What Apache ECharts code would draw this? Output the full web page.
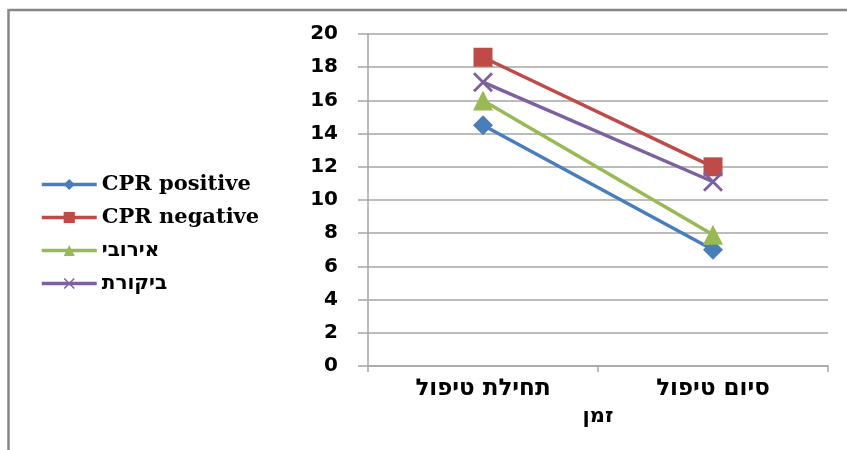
<!DOCTYPE html>
<html>
<head>
<meta charset="utf-8">
<script src="https://cdn.jsdelivr.net/npm/echarts@6/dist/echarts.min.js"></script>
<style>html,body{margin:0;padding:0;background:#fff}#c{width:847px;height:450px}</style>
</head>
<body>
<div id="c"></div>
<script>
const categories = ['תחילת טיפול', 'סיום טיפול'];
const seriesNames = ['CPR positive', 'CPR negative', 'אירובי', 'ביקורת'];
const cprPositive = [14.5, 7.0];
const cprNegative = [18.6, 12.0];
const aerobic = [16.0, 7.9];
const control = [17.1, 11.1];
const yTicks = { min: 0, max: 20, interval: 2 };
const xAxisTitle = 'זמן';

const colors = ['#4a7ebb', '#be4b48', '#98b954', '#7d60a0'];
const symbols = ['diamond', 'rect', 'triangle',
  'path://M0,1 L1,0 L5,4 L9,0 L10,1 L6,5 L10,9 L9,10 L5,6 L1,10 L0,9 L4,5 Z'];
const sizes = [20, 19, 20, 20];
const dataSets = [cprPositive, cprNegative, aerobic, control];
const hebFont = '"DejaVu Sans", sans-serif';
const isHebrew = s => /[\u0590-\u05FF]/.test(s);

const chart = echarts.init(document.getElementById('c'), null, { renderer: 'canvas' });
chart.setOption({
  animation: false,
  backgroundColor: '#ffffff',
  graphic: [
    { type: 'line', z: 100, shape: { x1: 8.5, y1: 10, x2: 847, y2: 10 }, style: { stroke: '#868686', lineWidth: 2.5 } },
    { type: 'line', z: 100, shape: { x1: 8.5, y1: 9, x2: 8.5, y2: 450 }, style: { stroke: '#868686', lineWidth: 2.5 } }
  ],
  grid: { left: 368, right: 19, top: 34, bottom: 84, containLabel: false },
  legend: {
    orient: 'vertical',
    left: 35, top: 169,
    itemWidth: 55, itemHeight: 14, itemGap: 12,
    lineStyle: { width: 3.5 },
    textStyle: { fontFamily: '"DejaVu Serif", "Liberation Serif", serif', fontWeight: 'bold', fontSize: 21, color: '#000', lineHeight: 21 },
    data: seriesNames.map(n => isHebrew(n)
      ? { name: n, textStyle: { fontFamily: hebFont, fontWeight: 'bold', fontSize: 20 } }
      : { name: n })
  },
  xAxis: {
    type: 'category',
    data: categories,
    boundaryGap: true,
    name: xAxisTitle,
    nameLocation: 'middle',
    nameGap: 38,
    nameTextStyle: { fontFamily: hebFont, fontWeight: 'bold', fontSize: 21, color: '#000' },
    axisLine: { lineStyle: { color: '#a6a6a6', width: 1.5 } },
    axisTick: { show: true, length: 6, alignWithLabel: false, lineStyle: { color: '#a6a6a6', width: 1.5 } },
    axisLabel: { margin: 12, fontFamily: hebFont, fontWeight: 'bold', fontSize: 23, color: '#000' },
    splitLine: { show: false }
  },
  yAxis: {
    type: 'value',
    min: yTicks.min, max: yTicks.max, interval: yTicks.interval,
    axisLine: { show: true, lineStyle: { color: '#a6a6a6', width: 1.5 } },
    axisTick: { show: true, length: 10, lineStyle: { color: '#a6a6a6', width: 1.5 } },
    axisLabel: { margin: 30, fontFamily: '"DejaVu Sans", sans-serif', fontWeight: 'bold', fontSize: 20, color: '#000' },
    splitLine: { show: true, lineStyle: { color: '#a6a6a6', width: 1.5 } }
  },
  series: dataSets.map((d, i) => ({
    name: seriesNames[i],
    type: 'line',
    data: d,
    symbol: symbols[i],
    symbolSize: sizes[i],
    showAllSymbol: true,
    color: colors[i],
    lineStyle: { color: colors[i], width: 3.5 },
    itemStyle: { color: colors[i] }
  }))
});
</script>
</body>
</html>
